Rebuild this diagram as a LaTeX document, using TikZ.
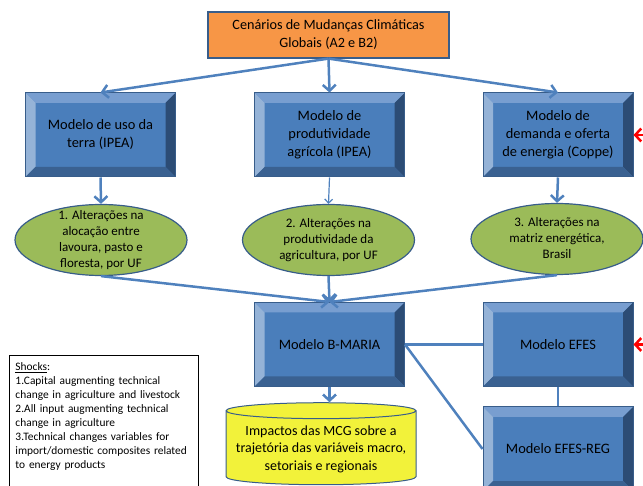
\documentclass[tikz,border=0pt]{standalone}
\usepackage{fontspec}
\setmainfont{Carlito}
\usepackage{tikz}
\usetikzlibrary{arrows.meta,shapes.geometric}

\definecolor{boxfill}{HTML}{4A7EBB}
\definecolor{bevtop}{HTML}{789ED0}
\definecolor{bevleft}{HTML}{95B3D7}
\definecolor{bevright}{HTML}{2C4C75}
\definecolor{bevbottom}{HTML}{3A6191}
\definecolor{boxedge}{HTML}{385D8A}
\definecolor{flowblue}{HTML}{4F81BD}
\definecolor{ovalgreen}{HTML}{9BBB59}
\definecolor{toporange}{HTML}{F79646}
\definecolor{cylyellow}{HTML}{F2F23A}

\newcommand{\bevw}{10pt}
\newcommand{\ovaltext}[1]{\makebox[0pt]{\smash{\raisebox{-3.5pt}{\begin{tabular}{@{}c@{}}#1\end{tabular}}}}}

\tikzset{
  modelbox/.style={rectangle, draw=boxedge, line width=1pt, fill=boxfill,
    minimum width=150pt, minimum height=84pt, align=center,
    font=\fontsize{14.4}{18}\selectfont,
    path picture={
      \fill[bevtop] (path picture bounding box.north west) -- (path picture bounding box.north east)
        -- ([xshift=-\bevw,yshift=-\bevw]path picture bounding box.north east) -- ([xshift=\bevw,yshift=-\bevw]path picture bounding box.north west) -- cycle;
      \fill[bevleft] (path picture bounding box.north west) -- (path picture bounding box.south west)
        -- ([xshift=\bevw,yshift=\bevw]path picture bounding box.south west) -- ([xshift=\bevw,yshift=-\bevw]path picture bounding box.north west) -- cycle;
      \fill[bevright] (path picture bounding box.north east) -- (path picture bounding box.south east)
        -- ([xshift=-\bevw,yshift=\bevw]path picture bounding box.south east) -- ([xshift=-\bevw,yshift=-\bevw]path picture bounding box.north east) -- cycle;
      \fill[bevbottom] (path picture bounding box.south west) -- (path picture bounding box.south east)
        -- ([xshift=-\bevw,yshift=\bevw]path picture bounding box.south east) -- ([xshift=\bevw,yshift=\bevw]path picture bounding box.south west) -- cycle;
    }},
  oval/.style={ellipse, draw=boxedge, line width=1.2pt, fill=ovalgreen,
    minimum width=172pt, minimum height=71pt, inner sep=0pt,
    font=\fontsize{13}{16}\selectfont},
  flow/.style={draw=flowblue, line width=2.5pt, -{Straight Barb[length=6pt,width=13pt]}},
  thinflow/.style={draw=flowblue, line width=1.2pt, -{Straight Barb[length=4pt,width=8pt]}},
  link/.style={draw=flowblue, line width=2.5pt},
  shock/.style={draw=red, line width=2.5pt, -{Straight Barb[length=6pt,width=13pt]}}
}

\begin{document}
\begin{tikzpicture}[x=1pt,y=-1pt]
\useasboundingbox (0,0) rectangle (643,486);
\clip (0,0) rectangle (643,486);

\node (cenarios) [draw=boxedge, line width=1.2pt, fill=toporange, minimum width=241pt, minimum height=46pt,
  align=center, font=\fontsize{14.2}{18}\selectfont] at (328.5,35) {Cenários de Mudanças Climáticas\\Globais (A2 e B2)};

\node (uso)   [modelbox] at (100.5,135) {Modelo de uso da\\terra (IPEA)};
\node (prod)  [modelbox] at (329.5,135) {Modelo de\\produtividade\\agrícola (IPEA)};
\node (energ) [modelbox] at (558,135)   {Modelo de\\demanda e oferta\\de energia (Coppe)};

\node (alt1) [oval] at (101,240)   {\ovaltext{1. Alterações na\\alocação entre\\lavoura, pasto e\\floresta, por UF}};
\node (alt2) [oval] at (328.5,240) {\ovaltext{2. Alterações na\\produtividade da\\agricultura, por UF}};
\node (alt3) [oval] at (557,239)   {\ovaltext{3. Alterações na\\matriz energética,\\Brasil}};

\node (bmaria)  [modelbox] at (329.5,344.5) {Modelo B-MARIA};
\node (efes)    [modelbox] at (558,344.5)   {Modelo EFES};
\node (efesreg) [modelbox] at (558,449)     {Modelo EFES-REG};

\node (impactos) [cylinder, shape border rotate=90, aspect=0.09, draw=boxedge, line width=1pt, fill=cylyellow,
  minimum width=190pt, minimum height=82pt, align=center, font=\fontsize{14}{17.5}\selectfont]
  at (321,449) {Impactos das MCG sobre a\\trajetória das variáveis macro,\\setoriais e regionais};

\node (shocks) [draw, line width=1pt, anchor=north west, text width=177pt, inner xsep=6pt, inner ysep=7pt,
  text depth=220pt, align=left, font=\fontsize{11.4}{14}\selectfont] at (9,355)
  {\underline{Shocks}:\\1.Capital augmenting technical\\change in agriculture and livestock\\2.All input augmenting technical\\change in agriculture\\3.Technical changes variables for\\import/domestic composites related\\to energy products};

\coordinate (shockenerg) at (662,135);
\coordinate (shockefes) at (662,344.5);

\draw[flow] (cenarios.south) -- (uso.north);
\draw[flow] (cenarios.south) -- (prod.north);
\draw[flow] (cenarios.south) -- (energ.north);

\draw[flow] (uso.south) -- (alt1.north);
\draw[thinflow] (prod.south) -- (alt2.north);
\draw[flow] (energ.south) -- (alt3.north);

\draw[flow] (alt1.south) -- (bmaria.north);
\draw[flow] (alt2.south) -- (bmaria.north);
\draw[flow] (alt3.south) -- (bmaria.north);

\draw[flow] (bmaria.south) -- (bmaria.south |- impactos.north);

\draw[link] (bmaria.east) -- (efes.west);
\draw[link] (bmaria.east) -- (efesreg.west);
\draw[link] (efes.south) -- (efesreg.north);

\draw[shock] (shockenerg) -- (energ.east);
\draw[shock] (shockefes) -- (efes.east);

\end{tikzpicture}
\end{document}
